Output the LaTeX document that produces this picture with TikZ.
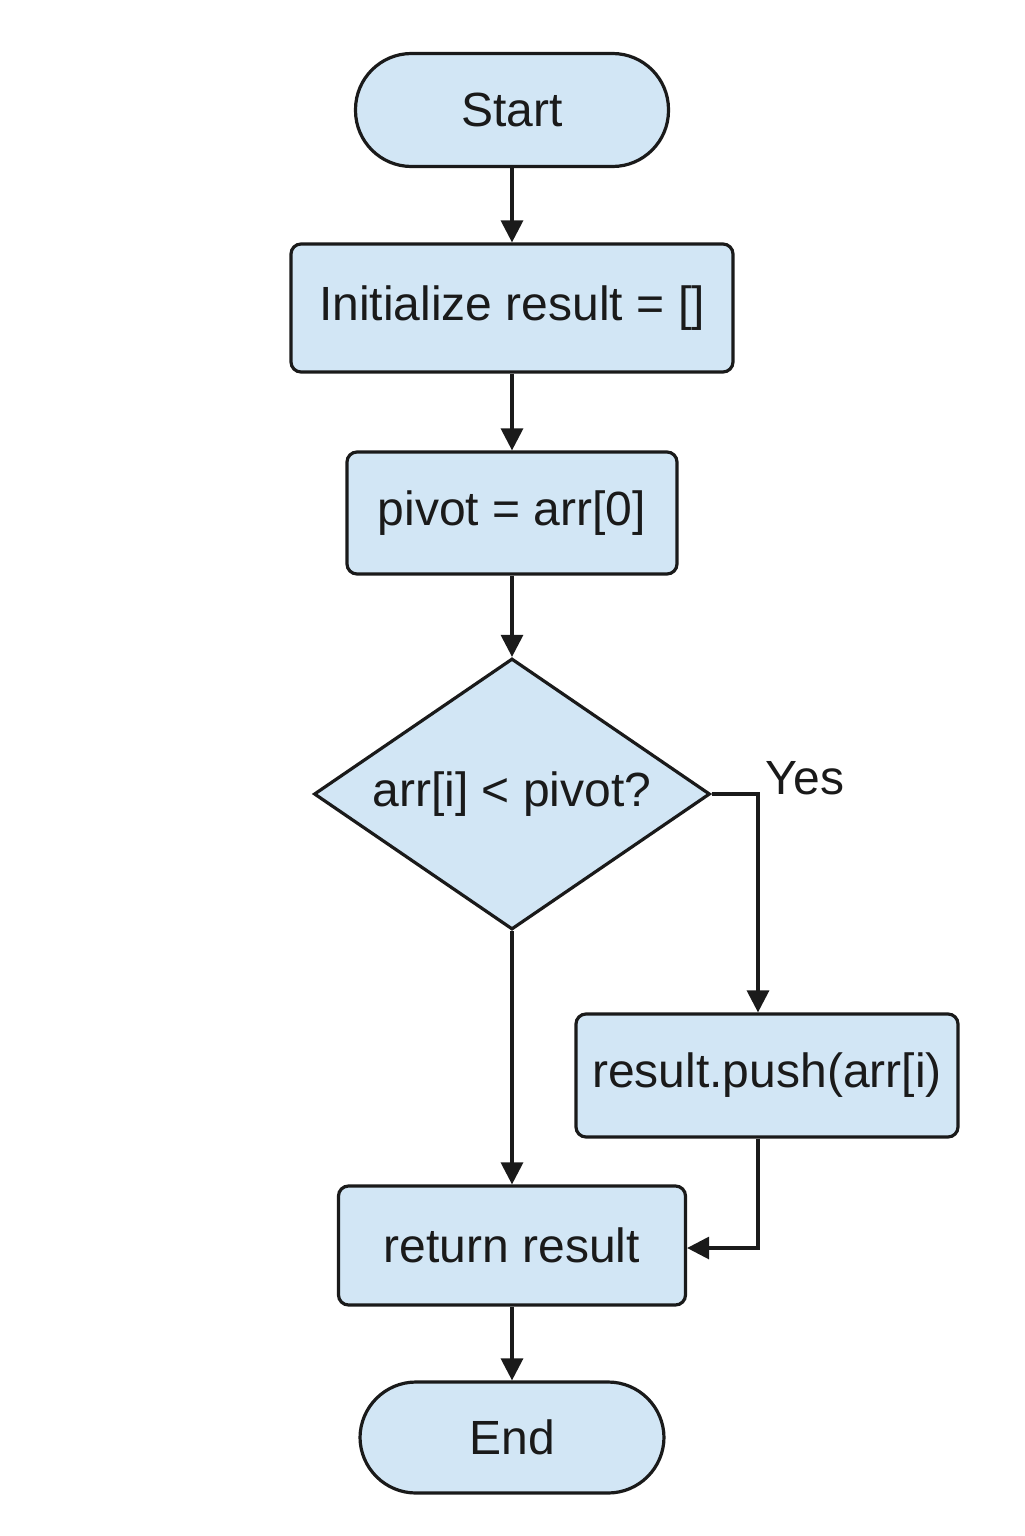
\documentclass[tikz,border=0pt]{standalone}
\usepackage{fontspec}
\setmainfont{Liberation Sans}
\usetikzlibrary{shapes.geometric,arrows.meta}
\definecolor{boxfill}{HTML}{D2E6F5}
\definecolor{ink}{HTML}{1A1A1A}
\begin{document}
\begin{tikzpicture}[x=0.5pt,y=-0.5pt,
  base/.style={draw=ink,line width=1.6pt,fill=boxfill,text=ink,font=\fontsize{24}{28}\selectfont,inner sep=0pt},
  procbox/.style={base,rectangle,rounded corners=5pt},
  term/.style={base,rectangle,rounded corners=28pt},
  decision/.style={base,diamond,aspect=1.46},
  conn/.style={draw=ink,line width=1.6pt,-{Triangle[length=11pt,width=11pt]}}]
\useasboundingbox (0,0) rectangle (1024,1536);
\node[term,minimum width=156.5pt,minimum height=56.5pt] (start) at (512,110) {Start};
\node[procbox,minimum width=221pt,minimum height=64pt] (init) at (512,308) {Initialize result = []};
\node[procbox,minimum width=165pt,minimum height=61pt] (pivot) at (512,513) {pivot = arr[0]};
\node[decision,minimum width=198pt,minimum height=135.5pt] (dec) at (512,794) {arr[i] < pivot?};
\node[procbox,minimum width=191pt,minimum height=61.5pt] (push) at (767,1075.5) {result.push(arr[i)};
\node[procbox,minimum width=173.5pt,minimum height=59.5pt] (ret) at (512,1245.5) {return result};
\node[term,minimum width=152pt,minimum height=55.5pt] (end) at (512,1437.5) {End};
\node[text=ink,font=\fontsize{24}{28}\selectfont,inner sep=0pt] (yes) at (805,778) {Yes};
\coordinate (c1) at (758,794);
\coordinate (c2) at (758,1248);
\draw[conn] (start) -- (init);
\draw[conn] (init) -- (pivot);
\draw[conn] (pivot) -- (dec);
\draw[conn] (dec.east) -- (c1) -- (c1 |- push.north);
\draw[conn] (dec.south) -- (ret.north);
\draw[conn] (c1 |- push.south) -- (c2) -- (ret.east |- c2);
\draw[conn] (ret) -- (end);
\end{tikzpicture}
\end{document}
